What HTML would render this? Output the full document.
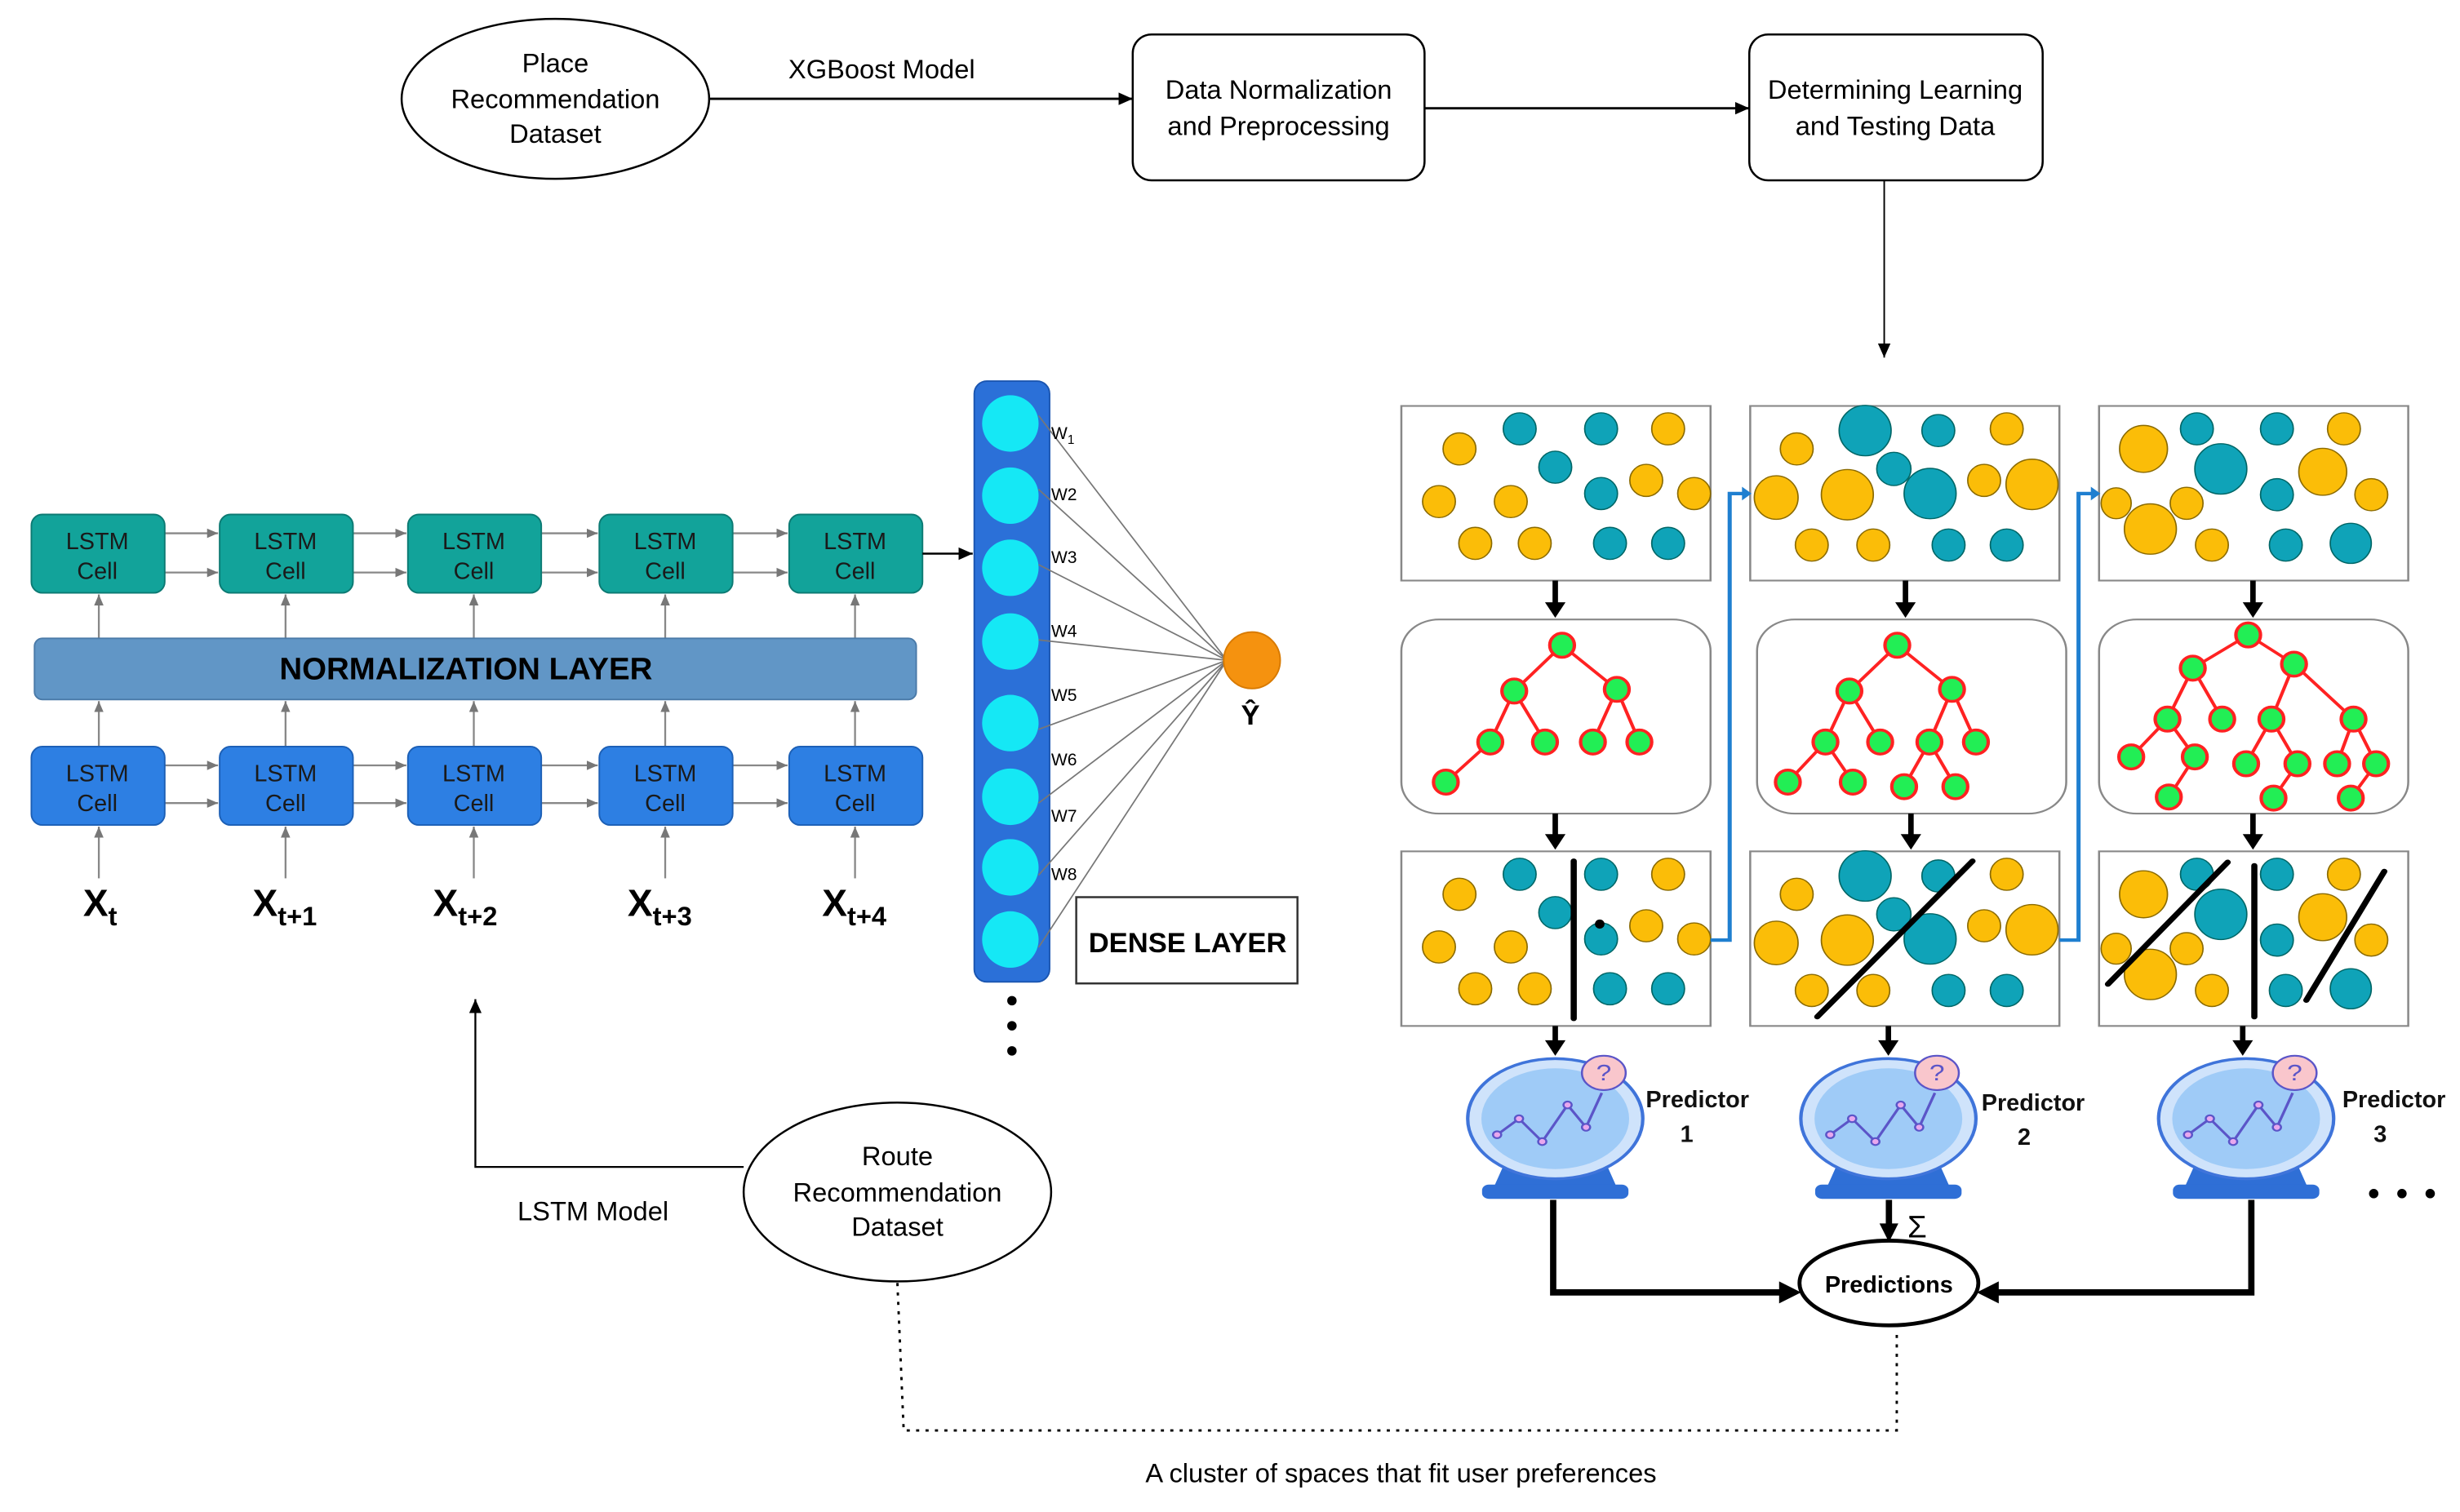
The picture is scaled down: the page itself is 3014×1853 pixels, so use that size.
<!DOCTYPE html>
<html><head><meta charset="utf-8"><style>
html,body{margin:0;padding:0;background:#fff;}
svg{display:block;}
text{font-family:"Liberation Sans",sans-serif;}
</style></head><body>
<svg width="3014" height="1853" viewBox="0 0 1568 964" xmlns="http://www.w3.org/2000/svg">
<defs>
<marker id="a" markerWidth="10" markerHeight="10" refX="9" refY="5" orient="auto" markerUnits="userSpaceOnUse"><path d="M0,1 L9,5 L0,9 z" fill="#000"/></marker>
<marker id="g" markerWidth="8" markerHeight="8" refX="7" refY="4" orient="auto" markerUnits="userSpaceOnUse"><path d="M0,1 L7,4 L0,7 z" fill="#777"/></marker>
<marker id="b" markerWidth="8" markerHeight="8" refX="7" refY="4" orient="auto" markerUnits="userSpaceOnUse"><path d="M0,1 L7,4 L0,7 z" fill="#1f7fd0"/></marker>
<marker id="k" markerWidth="14" markerHeight="14" refX="12" refY="7" orient="auto" markerUnits="userSpaceOnUse"><path d="M0,1 L12,7 L0,13 z" fill="#000"/></marker>
</defs>

<!-- top flow -->
<ellipse cx="354" cy="63" rx="98" ry="51" fill="#fff" stroke="#000" stroke-width="1.3"/>
<text x="354" y="46" font-size="17" text-anchor="middle">Place</text>
<text x="354" y="69" font-size="17" text-anchor="middle">Recommendation</text>
<text x="354" y="91" font-size="17" text-anchor="middle">Dataset</text>
<line x1="452" y1="63" x2="722" y2="63" stroke="#000" stroke-width="1.5" marker-end="url(#a)"/>
<text x="562" y="50" font-size="17" text-anchor="middle">XGBoost Model</text>
<rect x="722" y="22" width="186" height="93" rx="12" fill="#fff" stroke="#000" stroke-width="1.3"/>
<text x="815" y="63" font-size="17" text-anchor="middle">Data Normalization</text>
<text x="815" y="86" font-size="17" text-anchor="middle">and Preprocessing</text>
<line x1="908" y1="69" x2="1115" y2="69" stroke="#000" stroke-width="1.5" marker-end="url(#a)"/>
<rect x="1115" y="22" width="187" height="93" rx="12" fill="#fff" stroke="#000" stroke-width="1.3"/>
<text x="1208" y="63" font-size="17" text-anchor="middle">Determining Learning</text>
<text x="1208" y="86" font-size="17" text-anchor="middle">and Testing Data</text>
<line x1="1201" y1="115" x2="1201" y2="228" stroke="#000" stroke-width="1" marker-end="url(#a)"/>

<!-- LSTM -->
<g stroke="#888" stroke-width="1.2">
<line x1="105" y1="340" x2="139" y2="340" marker-end="url(#g)"/><line x1="105" y1="365" x2="139" y2="365" marker-end="url(#g)"/>
<line x1="225" y1="340" x2="259" y2="340" marker-end="url(#g)"/><line x1="225" y1="365" x2="259" y2="365" marker-end="url(#g)"/>
<line x1="345" y1="340" x2="381" y2="340" marker-end="url(#g)"/><line x1="345" y1="365" x2="381" y2="365" marker-end="url(#g)"/>
<line x1="467" y1="340" x2="502" y2="340" marker-end="url(#g)"/><line x1="467" y1="365" x2="502" y2="365" marker-end="url(#g)"/>
<line x1="105" y1="488" x2="139" y2="488" marker-end="url(#g)"/><line x1="105" y1="512" x2="139" y2="512" marker-end="url(#g)"/>
<line x1="225" y1="488" x2="259" y2="488" marker-end="url(#g)"/><line x1="225" y1="512" x2="259" y2="512" marker-end="url(#g)"/>
<line x1="345" y1="488" x2="381" y2="488" marker-end="url(#g)"/><line x1="345" y1="512" x2="381" y2="512" marker-end="url(#g)"/>
<line x1="467" y1="488" x2="502" y2="488" marker-end="url(#g)"/><line x1="467" y1="512" x2="502" y2="512" marker-end="url(#g)"/>
<line x1="63" y1="407" x2="63" y2="379" marker-end="url(#g)"/><line x1="182" y1="407" x2="182" y2="379" marker-end="url(#g)"/><line x1="302" y1="407" x2="302" y2="379" marker-end="url(#g)"/><line x1="424" y1="407" x2="424" y2="379" marker-end="url(#g)"/><line x1="545" y1="407" x2="545" y2="379" marker-end="url(#g)"/>
<line x1="63" y1="476" x2="63" y2="447" marker-end="url(#g)"/><line x1="182" y1="476" x2="182" y2="447" marker-end="url(#g)"/><line x1="302" y1="476" x2="302" y2="447" marker-end="url(#g)"/><line x1="424" y1="476" x2="424" y2="447" marker-end="url(#g)"/><line x1="545" y1="476" x2="545" y2="447" marker-end="url(#g)"/>
<line x1="63" y1="560" x2="63" y2="527" marker-end="url(#g)"/><line x1="182" y1="560" x2="182" y2="527" marker-end="url(#g)"/><line x1="302" y1="560" x2="302" y2="527" marker-end="url(#g)"/><line x1="424" y1="560" x2="424" y2="527" marker-end="url(#g)"/><line x1="545" y1="560" x2="545" y2="527" marker-end="url(#g)"/>
</g>
<g fill="#12a39a" stroke="#0c7a73" stroke-width="1">
<rect x="20" y="328" width="85" height="50" rx="7"/><rect x="140" y="328" width="85" height="50" rx="7"/><rect x="260" y="328" width="85" height="50" rx="7"/><rect x="382" y="328" width="85" height="50" rx="7"/><rect x="503" y="328" width="85" height="50" rx="7"/>
</g>
<g fill="#2d7fe3" stroke="#1c5fb5" stroke-width="1">
<rect x="20" y="476" width="85" height="50" rx="7"/><rect x="140" y="476" width="85" height="50" rx="7"/><rect x="260" y="476" width="85" height="50" rx="7"/><rect x="382" y="476" width="85" height="50" rx="7"/><rect x="503" y="476" width="85" height="50" rx="7"/>
</g>
<g font-size="15" fill="#1a1a1a" text-anchor="middle">
<text x="62" y="350">LSTM</text><text x="62" y="369">Cell</text>
<text x="182" y="350">LSTM</text><text x="182" y="369">Cell</text>
<text x="302" y="350">LSTM</text><text x="302" y="369">Cell</text>
<text x="424" y="350">LSTM</text><text x="424" y="369">Cell</text>
<text x="545" y="350">LSTM</text><text x="545" y="369">Cell</text>
<text x="62" y="498">LSTM</text><text x="62" y="517">Cell</text>
<text x="182" y="498">LSTM</text><text x="182" y="517">Cell</text>
<text x="302" y="498">LSTM</text><text x="302" y="517">Cell</text>
<text x="424" y="498">LSTM</text><text x="424" y="517">Cell</text>
<text x="545" y="498">LSTM</text><text x="545" y="517">Cell</text>
</g>
<rect x="22" y="407" width="562" height="39" rx="5" fill="#6196c6" stroke="#4a7aa8" stroke-width="1"/>
<text x="297" y="433" font-size="20" font-weight="bold" text-anchor="middle" fill="#000">NORMALIZATION LAYER</text>
<g font-size="24" font-weight="bold" fill="#000">
<text x="53" y="584">X<tspan font-size="17" dy="6">t</tspan></text>
<text x="161" y="584">X<tspan font-size="17" dy="6">t+1</tspan></text>
<text x="276" y="584">X<tspan font-size="17" dy="6">t+2</tspan></text>
<text x="400" y="584">X<tspan font-size="17" dy="6">t+3</tspan></text>
<text x="524" y="584">X<tspan font-size="17" dy="6">t+4</tspan></text>
</g>
<line x1="588" y1="353" x2="620" y2="353" stroke="#000" stroke-width="1.3" marker-end="url(#a)"/>

<!-- dense -->
<rect x="621" y="243" width="48" height="383" rx="8" fill="#2b70d8" stroke="#1a55b0"/>
<g fill="#15e8f5">
<circle cx="644" cy="270" r="18"/><circle cx="644" cy="316" r="18"/><circle cx="644" cy="362" r="18"/><circle cx="644" cy="409" r="18"/><circle cx="644" cy="461" r="18"/><circle cx="644" cy="508" r="18"/><circle cx="644" cy="553" r="18"/><circle cx="644" cy="599" r="18"/>
</g>
<g stroke="#777" stroke-width="0.9">
<line x1="662" y1="265" x2="782" y2="421"/><line x1="662" y1="312" x2="782" y2="421"/><line x1="662" y1="360" x2="782" y2="421"/><line x1="662" y1="408" x2="782" y2="421"/><line x1="662" y1="465" x2="782" y2="421"/><line x1="662" y1="512" x2="782" y2="421"/><line x1="662" y1="558" x2="782" y2="421"/><line x1="662" y1="604" x2="782" y2="421"/>
</g>
<g font-size="11" fill="#000">
<text x="670" y="280">W<tspan font-size="8" dy="3">1</tspan></text>
<text x="670" y="319">W2</text><text x="670" y="359">W3</text><text x="670" y="406">W4</text><text x="670" y="447">W5</text><text x="670" y="488">W6</text><text x="670" y="524">W7</text><text x="670" y="561">W8</text>
</g>
<circle cx="798" cy="421" r="18" fill="#f5920f" stroke="#d87a00"/>
<text x="797" y="462" font-size="18" font-weight="bold" text-anchor="middle">Ŷ</text>
<rect x="686" y="572" width="141" height="55" fill="#fff" stroke="#333" stroke-width="1.3"/>
<text x="757" y="607" font-size="18" font-weight="bold" text-anchor="middle">DENSE LAYER</text>
<circle cx="645" cy="638" r="3" fill="#000"/><circle cx="645" cy="654" r="3" fill="#000"/><circle cx="645" cy="670" r="3" fill="#000"/>

<!-- route -->
<ellipse cx="572" cy="760" rx="98" ry="57" fill="#fff" stroke="#000" stroke-width="1.3"/>
<text x="572" y="743" font-size="17" text-anchor="middle">Route</text>
<text x="572" y="766" font-size="17" text-anchor="middle">Recommendation</text>
<text x="572" y="788" font-size="17" text-anchor="middle">Dataset</text>
<polyline points="474,744 303,744 303,637" fill="none" stroke="#000" stroke-width="1.2" marker-end="url(#a)"/>
<text x="378" y="778" font-size="17" text-anchor="middle">LSTM Model</text>
<polyline points="572,818 576,912 1209,912 1209,848" fill="none" stroke="#000" stroke-width="1.5" stroke-dasharray="2,4"/>
<text x="893" y="945" font-size="17" text-anchor="middle">A cluster of spaces that fit user preferences</text>

<!-- right side in zoom coords -->
<g transform="translate(884.5,249.7) scale(0.436,0.365)">
<g fill="#fff" stroke="#888" stroke-width="3">
<rect x="20" y="25" width="452" height="305"/><rect x="530" y="25" width="452" height="305"/><rect x="1040" y="25" width="452" height="305"/>
<rect x="20" y="398" width="452" height="339" rx="55"/><rect x="540" y="398" width="452" height="339" rx="55"/><rect x="1040" y="398" width="452" height="339" rx="55"/>
<rect x="20" y="803" width="452" height="305"/><rect x="530" y="803" width="452" height="305"/><rect x="1040" y="803" width="452" height="305"/>
</g>
<g id="c1">
<g fill="#fbbd08" stroke="#8a6a00" stroke-width="2">
<ellipse cx="105" cy="100" rx="24" ry="28"/><ellipse cx="75" cy="192" rx="24" ry="28"/><ellipse cx="180" cy="192" rx="24" ry="28"/><ellipse cx="128" cy="265" rx="24" ry="28"/><ellipse cx="215" cy="265" rx="24" ry="28"/><ellipse cx="378" cy="155" rx="24" ry="28"/><ellipse cx="448" cy="178" rx="24" ry="28"/><ellipse cx="410" cy="65" rx="24" ry="28"/>
</g>
<g fill="#0fa3b8" stroke="#066" stroke-width="2">
<ellipse cx="193" cy="65" rx="24" ry="28"/><ellipse cx="312" cy="65" rx="24" ry="28"/><ellipse cx="245" cy="132" rx="24" ry="28"/><ellipse cx="312" cy="178" rx="24" ry="28"/><ellipse cx="325" cy="265" rx="24" ry="28"/><ellipse cx="410" cy="265" rx="24" ry="28"/>
</g></g>
<g id="c2">
<g fill="#fbbd08" stroke="#8a6a00" stroke-width="2">
<ellipse cx="598" cy="100" rx="24" ry="28"/><ellipse cx="568" cy="185" rx="32" ry="38"/><ellipse cx="672" cy="180" rx="38" ry="44"/><ellipse cx="872" cy="155" rx="24" ry="28"/><ellipse cx="942" cy="162" rx="38" ry="44"/><ellipse cx="620" cy="268" rx="24" ry="28"/><ellipse cx="710" cy="268" rx="24" ry="28"/><ellipse cx="905" cy="65" rx="24" ry="28"/>
</g>
<g fill="#0fa3b8" stroke="#066" stroke-width="2">
<ellipse cx="698" cy="68" rx="38" ry="44"/><ellipse cx="805" cy="68" rx="24" ry="28"/><ellipse cx="740" cy="135" rx="25" ry="29"/><ellipse cx="793" cy="178" rx="38" ry="44"/><ellipse cx="820" cy="268" rx="24" ry="28"/><ellipse cx="905" cy="268" rx="24" ry="28"/>
</g></g>
<g id="c3">
<g fill="#fbbd08" stroke="#8a6a00" stroke-width="2">
<ellipse cx="1105" cy="100" rx="35" ry="41"/><ellipse cx="1065" cy="195" rx="22" ry="27"/><ellipse cx="1115" cy="240" rx="38" ry="44"/><ellipse cx="1168" cy="195" rx="24" ry="28"/><ellipse cx="1367" cy="140" rx="35" ry="41"/><ellipse cx="1438" cy="180" rx="24" ry="28"/><ellipse cx="1398" cy="65" rx="24" ry="28"/><ellipse cx="1205" cy="268" rx="24" ry="28"/>
</g>
<g fill="#0fa3b8" stroke="#066" stroke-width="2">
<ellipse cx="1183" cy="65" rx="24" ry="28"/><ellipse cx="1300" cy="65" rx="24" ry="28"/><ellipse cx="1218" cy="135" rx="38" ry="44"/><ellipse cx="1300" cy="180" rx="24" ry="28"/><ellipse cx="1313" cy="268" rx="24" ry="28"/><ellipse cx="1408" cy="265" rx="30" ry="35"/>
</g></g>
<use href="#c1" transform="translate(0,778)"/><use href="#c2" transform="translate(0,778)"/><use href="#c3" transform="translate(0,778)"/>
<g stroke="#000" stroke-width="9" stroke-linecap="round">
<line x1="272" y1="820" x2="272" y2="1095"/>
<line x1="855" y1="820" x2="628" y2="1092"/>
<line x1="1228" y1="822" x2="1053" y2="1035"/><line x1="1267" y1="828" x2="1267" y2="1092"/><line x1="1457" y1="838" x2="1343" y2="1063"/>
</g>
<ellipse cx="310" cy="930" rx="7" ry="8" fill="#000"/>
<!-- trees -->
<g stroke="#f22" stroke-width="5" fill="none">
<path d="M255,443 L185,523 M255,443 L335,520 M185,523 L150,612 M185,523 L230,612 M335,520 L300,612 M335,520 L368,612 M150,612 L85,682"/>
<path d="M745,443 L675,523 M745,443 L825,520 M675,523 L640,612 M675,523 L720,612 M825,520 L792,612 M825,520 L860,612 M640,612 L585,682 M640,612 L680,682 M792,612 L755,690 M792,612 L830,690"/>
<path d="M1258,425 L1177,483 M1258,425 L1325,476 M1177,483 L1140,572 M1177,483 L1220,572 M1325,476 L1292,572 M1325,476 L1412,572 M1140,572 L1087,638 M1140,572 L1180,638 M1292,572 L1255,650 M1292,572 L1330,650 M1412,572 L1388,650 M1412,572 L1445,650 M1180,638 L1142,708 M1330,650 L1295,710 M1445,650 L1408,710"/>
</g>
<g fill="#22ee55" stroke="#f22" stroke-width="5">
<ellipse cx="255" cy="443" rx="18" ry="21"/><ellipse cx="185" cy="523" rx="18" ry="21"/><ellipse cx="335" cy="520" rx="18" ry="21"/><ellipse cx="150" cy="612" rx="18" ry="21"/><ellipse cx="230" cy="612" rx="18" ry="21"/><ellipse cx="300" cy="612" rx="18" ry="21"/><ellipse cx="368" cy="612" rx="18" ry="21"/><ellipse cx="85" cy="682" rx="18" ry="21"/>
<ellipse cx="745" cy="443" rx="18" ry="21"/><ellipse cx="675" cy="523" rx="18" ry="21"/><ellipse cx="825" cy="520" rx="18" ry="21"/><ellipse cx="640" cy="612" rx="18" ry="21"/><ellipse cx="720" cy="612" rx="18" ry="21"/><ellipse cx="792" cy="612" rx="18" ry="21"/><ellipse cx="860" cy="612" rx="18" ry="21"/><ellipse cx="585" cy="682" rx="18" ry="21"/><ellipse cx="680" cy="682" rx="18" ry="21"/><ellipse cx="755" cy="690" rx="18" ry="21"/><ellipse cx="830" cy="690" rx="18" ry="21"/>
<ellipse cx="1258" cy="425" rx="18" ry="21"/><ellipse cx="1177" cy="483" rx="18" ry="21"/><ellipse cx="1325" cy="476" rx="18" ry="21"/><ellipse cx="1140" cy="572" rx="18" ry="21"/><ellipse cx="1220" cy="572" rx="18" ry="21"/><ellipse cx="1292" cy="572" rx="18" ry="21"/><ellipse cx="1412" cy="572" rx="18" ry="21"/><ellipse cx="1087" cy="638" rx="18" ry="21"/><ellipse cx="1180" cy="638" rx="18" ry="21"/><ellipse cx="1255" cy="650" rx="18" ry="21"/><ellipse cx="1330" cy="650" rx="18" ry="21"/><ellipse cx="1388" cy="650" rx="18" ry="21"/><ellipse cx="1445" cy="650" rx="18" ry="21"/><ellipse cx="1142" cy="708" rx="18" ry="21"/><ellipse cx="1295" cy="710" rx="18" ry="21"/><ellipse cx="1408" cy="710" rx="18" ry="21"/>
</g>
<!-- black down arrows -->
<g stroke="#000" stroke-width="8" fill="#000">
<line x1="245" y1="330" x2="245" y2="370"/><line x1="757" y1="330" x2="757" y2="370"/><line x1="1265" y1="330" x2="1265" y2="370"/>
<line x1="245" y1="737" x2="245" y2="775"/><line x1="765" y1="737" x2="765" y2="775"/><line x1="1265" y1="737" x2="1265" y2="775"/>
<line x1="245" y1="1108" x2="245" y2="1135"/><line x1="732" y1="1108" x2="732" y2="1135"/><line x1="1250" y1="1108" x2="1250" y2="1135"/>
</g>
<g fill="#000">
<path d="M230,368 L260,368 L245,395 z"/><path d="M742,368 L772,368 L757,395 z"/><path d="M1250,368 L1280,368 L1265,395 z"/>
<path d="M230,773 L260,773 L245,800 z"/><path d="M750,773 L780,773 L765,800 z"/><path d="M1250,773 L1280,773 L1265,800 z"/>
<path d="M230,1133 L260,1133 L245,1160 z"/><path d="M717,1133 L747,1133 L732,1160 z"/><path d="M1235,1133 L1265,1133 L1250,1160 z"/>
</g>
<!-- blue connectors -->
<g fill="none" stroke="#1f7fd0" stroke-width="6">
<polyline points="472,958 500,958 500,178 520,178"/>
<polyline points="982,958 1010,958 1010,178 1030,178"/>
</g>
<path d="M518,166 L532,178 L518,190 z" fill="#1f7fd0"/><path d="M1028,166 L1042,178 L1028,190 z" fill="#1f7fd0"/>
<!-- predictors -->
<g id="p1">
<path d="M170,1350 L320,1350 L335,1390 L155,1390 z" fill="#2f6fd6"/>
<rect x="138" y="1385" width="214" height="25" rx="10" fill="#2f6fd6"/>
<ellipse cx="245" cy="1270" rx="128" ry="105" fill="#cfe3fb" stroke="#3f74da" stroke-width="5"/>
<ellipse cx="245" cy="1270" rx="108" ry="88" fill="#9fcbf7"/>
<polyline points="160,1298 192,1270 226,1310 263,1246 290,1285 313,1225" fill="none" stroke="#5b55c8" stroke-width="4"/>
<g fill="#e9a7ee" stroke="#5b55c8" stroke-width="3"><circle cx="160" cy="1298" r="6"/><circle cx="192" cy="1270" r="6"/><circle cx="226" cy="1310" r="6"/><circle cx="263" cy="1246" r="6"/><circle cx="290" cy="1285" r="6"/></g>
<ellipse cx="316" cy="1190" rx="32" ry="30" fill="#f9c6cc" stroke="#5b55c8" stroke-width="3"/>
<text x="316" y="1203" font-size="40" text-anchor="middle" fill="#5b55c8">?</text>
</g>
<use href="#p1" transform="translate(487,0)"/>
<use href="#p1" transform="translate(1010,0)"/>
</g>

<g font-size="15" font-weight="bold" fill="#111">
<text x="1049" y="706">Predictor</text><text x="1071" y="728">1</text>
<text x="1263" y="708">Predictor</text><text x="1286" y="730">2</text>
<text x="1493" y="706">Predictor</text><text x="1513" y="728">3</text>
</g>
<circle cx="1513" cy="761" r="3" fill="#000"/><circle cx="1531" cy="761" r="3" fill="#000"/><circle cx="1549" cy="761" r="3" fill="#000"/>

<!-- bottom -->
<g stroke="#000" stroke-width="4" fill="none">
<polyline points="990,765 990,824 1136,824"/>
<polyline points="1435,765 1435,824 1272,824"/>
<line x1="1204" y1="765" x2="1204" y2="782"/>
</g>
<path d="M1134,817 L1148,824 L1134,831 z" fill="#000"/>
<path d="M1274,817 L1260,824 L1274,831 z" fill="#000"/>
<path d="M1198,780 L1210,780 L1204,792 z" fill="#000"/>
<text x="1222" y="789" font-size="20" text-anchor="middle">Σ</text>
<ellipse cx="1204" cy="818" rx="57" ry="27" fill="#fff" stroke="#000" stroke-width="2.5"/>
<text x="1204" y="824" font-size="15" font-weight="bold" text-anchor="middle">Predictions</text>
</svg>
</body></html>
